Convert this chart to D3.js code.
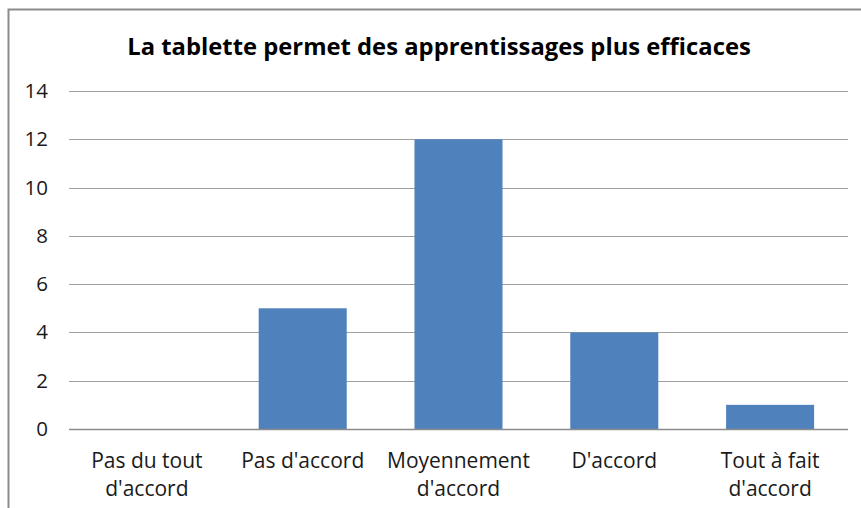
<!DOCTYPE html>
<html>
<head>
<meta charset="utf-8">
<script src="https://cdn.jsdelivr.net/npm/d3@7"></script>
<style>
  html, body { margin: 0; padding: 0; background: #fff; }
  svg { display: block; }
</style>
</head>
<body>
<svg id="chart" width="861" height="508"></svg>
<script>
// Survey answers and counts
const categories = [
  ["Pas du tout", "d'accord"],
  ["Pas d'accord"],
  ["Moyennement", "d'accord"],
  ["D'accord"],
  ["Tout à fait", "d'accord"]
];
const counts = [0, 5, 12, 4, 1];
const yTicks = [0, 2, 4, 6, 8, 10, 12, 14];
const title = "La tablette permet des apprentissages plus efficaces";

const svg = d3.select("#chart");
const font = "'Open Sans', 'Noto Sans', sans-serif";

// Chart frame
svg.append("rect")
  .attr("x", 8.5).attr("y", 9.5)
  .attr("width", 900).attr("height", 520)
  .attr("fill", "#fff")
  .attr("stroke", "#8c8c8c")
  .attr("stroke-width", 2);

const plot = { left: 69, right: 848, top: 91, bottom: 429 };

const x = d3.scaleBand()
  .domain(d3.range(categories.length))
  .range([plot.left, plot.right])
  .paddingInner(0.435)
  .paddingOuter(0.2175);

const y = d3.scaleLinear()
  .domain([0, 14])
  .range([plot.bottom, plot.top]);

// Title
svg.append("text")
  .attr("x", 439).attr("y", 55)
  .attr("text-anchor", "middle")
  .attr("font-family", font)
  .attr("font-weight", "bold")
  .attr("font-size", 23.8)
  .attr("fill", "#000")
  .text(title);

// Horizontal gridlines
svg.append("g")
  .selectAll("line")
  .data(yTicks)
  .join("line")
  .attr("x1", plot.left).attr("x2", plot.right)
  .attr("y1", d => Math.round(y(d)) + 0.5)
  .attr("y2", d => Math.round(y(d)) + 0.5)
  .attr("stroke", "#a0a0a0")
  .attr("stroke-width", 1);

// Y axis labels
const yAxis = d3.axisLeft(y).tickValues(yTicks).tickSize(0).tickPadding(21);
svg.append("g")
  .attr("transform", `translate(${plot.left},0)`)
  .call(yAxis)
  .call(g => g.select(".domain").remove())
  .selectAll("text")
  .attr("font-family", font)
  .attr("font-size", 20.5)
  .attr("fill", "#1a1a1a");

// Bars
svg.append("g")
  .selectAll("rect")
  .data(counts)
  .join("rect")
  .attr("x", (d, i) => x(i))
  .attr("width", x.bandwidth())
  .attr("y", d => y(d))
  .attr("height", d => y(0) - y(d))
  .attr("fill", "#4f81bd");

// Category axis line
svg.append("line")
  .attr("x1", plot.left).attr("x2", plot.right)
  .attr("y1", plot.bottom + 0.5).attr("y2", plot.bottom + 0.5)
  .attr("stroke", "#8c8c8c")
  .attr("stroke-width", 1.5);

// Category labels (two lines where needed)
const labels = svg.append("g")
  .selectAll("text")
  .data(categories)
  .join("text")
  .attr("x", (d, i) => x(i) + x.bandwidth() / 2)
  .attr("y", 468)
  .attr("text-anchor", "middle")
  .attr("font-family", font)
  .attr("font-size", 21)
  .attr("fill", "#1a1a1a");
labels.selectAll("tspan")
  .data(d => d)
  .join("tspan")
  .attr("x", function () { return d3.select(this.parentNode).attr("x"); })
  .attr("dy", (d, i) => i === 0 ? 0 : 28)
  .text(d => d);
</script>
</body>
</html>
